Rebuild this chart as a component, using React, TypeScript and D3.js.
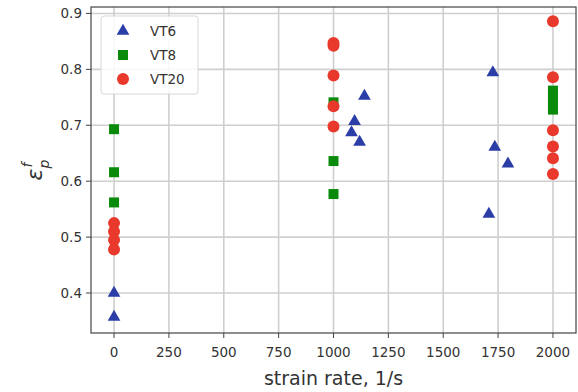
import React from "react";
import * as d3 from "d3";

const xTicks = [0, 250, 500, 750, 1000, 1250, 1500, 1750, 2000];
const yTicks = [0.4, 0.5, 0.6, 0.7, 0.8, 0.9];

const vt6X = [0, 0, 1141, 1096, 1082, 1119, 1726, 1735, 1795, 1708];
const vt6Y = [0.4, 0.357, 0.752, 0.707, 0.687, 0.67, 0.794, 0.661, 0.631, 0.541];

const vt8X = [0, 0, 0, 1000, 1000, 1000, 2000, 2000, 2000, 2000];
const vt8Y = [0.693, 0.616, 0.562, 0.741, 0.636, 0.577, 0.728, 0.742, 0.752, 0.762];

const vt20X = [0, 0, 0, 0, 1000, 1000, 1000, 1000, 1000, 2000, 2000, 2000, 2000, 2000, 2000];
const vt20Y = [0.525, 0.51, 0.495, 0.478, 0.847, 0.842, 0.789, 0.734, 0.698, 0.886, 0.786, 0.691, 0.662, 0.641, 0.613];

const seriesNames = ["VT6", "VT8", "VT20"];

const W = 578, H = 392;
const left = 91, right = 576, top = 7, bottom = 333;

export default function App() {
  const x = d3.scaleLinear().domain([-105, 2105]).range([left, right]);
  const y = d3.scaleLinear().domain([0.3285, 0.9115]).range([bottom, top]);
  const blue = "#2b3da6", green = "#0a8a0a", red = "#e8392c";
  const tri = d3.symbol().type(d3.symbolTriangle).size(70)();
  const sq = d3.symbol().type(d3.symbolSquare).size(100)();
  const font = "DejaVu Sans, sans-serif";
  const textCol = "#333";
  return (
    <svg width={W} height={H} style={{ position: "absolute", left: 0, top: 0 }} fontFamily={font}>
      <rect x={0} y={0} width={W} height={H} fill="#fff" />
      {xTicks.map((t) => (
        <line key={"gx" + t} x1={x(t)} x2={x(t)} y1={top} y2={bottom} stroke="#cfcfcf" strokeWidth={1.6} />
      ))}
      {yTicks.map((t) => (
        <line key={"gy" + t} x1={left} x2={right} y1={y(t)} y2={y(t)} stroke="#cfcfcf" strokeWidth={1.6} />
      ))}
      {xTicks.map((t) => (
        <g key={"tx" + t}>
          <line x1={x(t)} x2={x(t)} y1={bottom} y2={bottom + 5} stroke="#444" strokeWidth={1} />
          <text x={x(t)} y={bottom + 24} textAnchor="middle" fontSize={13.5} fill={textCol}>{t}</text>
        </g>
      ))}
      {yTicks.map((t) => (
        <g key={"ty" + t}>
          <line x1={left - 5} x2={left} y1={y(t)} y2={y(t)} stroke="#444" strokeWidth={1} />
          <text x={left - 9} y={y(t) + 5} textAnchor="end" fontSize={13.5} fill={textCol}>{t.toFixed(1)}</text>
        </g>
      ))}
      {vt8X.map((v, i) => (
        <path key={"s" + i} d={sq} transform={`translate(${x(v)},${y(vt8Y[i])})`} fill={green} />
      ))}
      {vt6X.map((v, i) => (
        <path key={"t" + i} d={tri} transform={`translate(${x(v)},${y(vt6Y[i])})`} fill={blue} />
      ))}
      {vt20X.map((v, i) => (
        <circle key={"c" + i} cx={x(v)} cy={y(vt20Y[i])} r={6} fill={red} />
      ))}
      <rect x={left} y={top} width={right - left} height={bottom - top} fill="none" stroke="#444" strokeWidth={1.2} />
      <g>
        <rect x={101} y={16} width={97} height={78} rx={3} fill="#fff" fillOpacity={0.85} stroke="#d8d8d8" />
        {seriesNames.map((n, i) => {
          const cy = 31 + i * 24;
          return (
            <g key={n}>
              {i === 0 && <path d={tri} transform={`translate(123,${cy})`} fill={blue} />}
              {i === 1 && <path d={sq} transform={`translate(123,${cy})`} fill={green} />}
              {i === 2 && <circle cx={123} cy={cy} r={6} fill={red} />}
              <text x={150} y={cy + 5} fontSize={13.5} fill={textCol}>{n}</text>
            </g>
          );
        })}
      </g>
      <text x={(left + right) / 2} y={385} textAnchor="middle" fontSize={19} fill={textCol}>strain rate, 1/s</text>
      <text transform={`translate(42,${(top + bottom) / 2}) rotate(-90)`} textAnchor="middle" fontSize={22} fill={textCol} fontStyle="italic">
        ε
        <tspan fontSize={14} dy={7}>p</tspan>
        <tspan fontSize={14} dx={-8} dy={-17}>f</tspan>
      </text>
    </svg>
  );
}
